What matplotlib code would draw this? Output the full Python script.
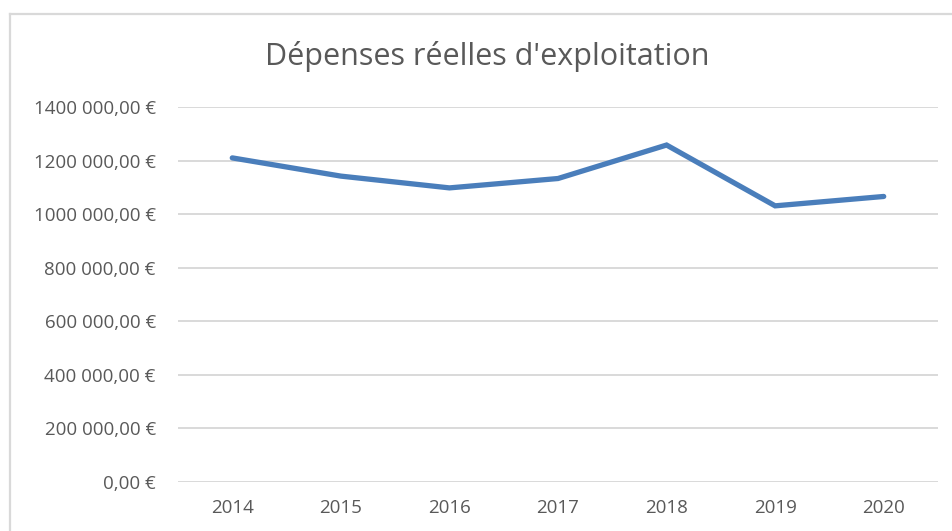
import matplotlib
matplotlib.use("Agg")
import matplotlib.pyplot as plt
from matplotlib.lines import Line2D

# Dépenses réelles d'exploitation, 2014-2020 (€)
annees = ["2014", "2015", "2016", "2017", "2018", "2019", "2020"]
depenses = [1210000, 1142000, 1098000, 1133000, 1258000, 1031000, 1066000]
graduations = [0, 200000, 400000, 600000, 800000, 1000000, 1200000, 1400000]
etiquettes = ["0,00 €", "200 000,00 €", "400 000,00 €", "600 000,00 €",
              "800 000,00 €", "1000 000,00 €", "1200 000,00 €", "1400 000,00 €"]

gris_texte = "#595959"
gris_ligne = "#d9d9d9"
bleu = "#4a7ebb"

plt.rcParams["font.family"] = ["Open Sans", "DejaVu Sans"]

W, H = 952, 531
fig = plt.figure(figsize=(W / 100, H / 100), dpi=100)
ax = fig.add_axes([178 / W, 1 - 482 / H, (938 - 178) / W, (482 - 107) / H])

x = list(range(len(annees)))
ax.plot(x, depenses, color=bleu, linewidth=3.8, solid_capstyle="round",
        solid_joinstyle="miter", zorder=3)

ax.set_xlim(-0.5, len(annees) - 0.5)
ax.set_ylim(0, 1400000)
ax.set_yticks(graduations)
ax.set_yticklabels(etiquettes)
ax.set_xticks(x)
ax.set_xticklabels(annees)
ax.tick_params(axis="both", length=0, labelsize=13.5, colors=gris_texte)
ax.tick_params(axis="y", pad=16)
ax.tick_params(axis="x", pad=12)
ax.grid(axis="y", color=gris_ligne, linewidth=1.4)
ax.set_axisbelow(True)
for s in ax.spines.values():
    s.set_visible(False)

# cadre du graphique (bord gauche et haut)
x0, y0 = 10 / W, 1 - 14 / H
fig.add_artist(Line2D([x0, x0], [0, y0], transform=fig.transFigure,
                      color=gris_ligne, linewidth=1.6))
fig.add_artist(Line2D([x0, 1], [y0, y0], transform=fig.transFigure,
                      color=gris_ligne, linewidth=1.6))

fig.text(487 / W, 1 - 57 / H, "Dépenses réelles d'exploitation",
         ha="center", va="center", fontsize=22, color=gris_texte)

fig.savefig("out.png", dpi=100)
